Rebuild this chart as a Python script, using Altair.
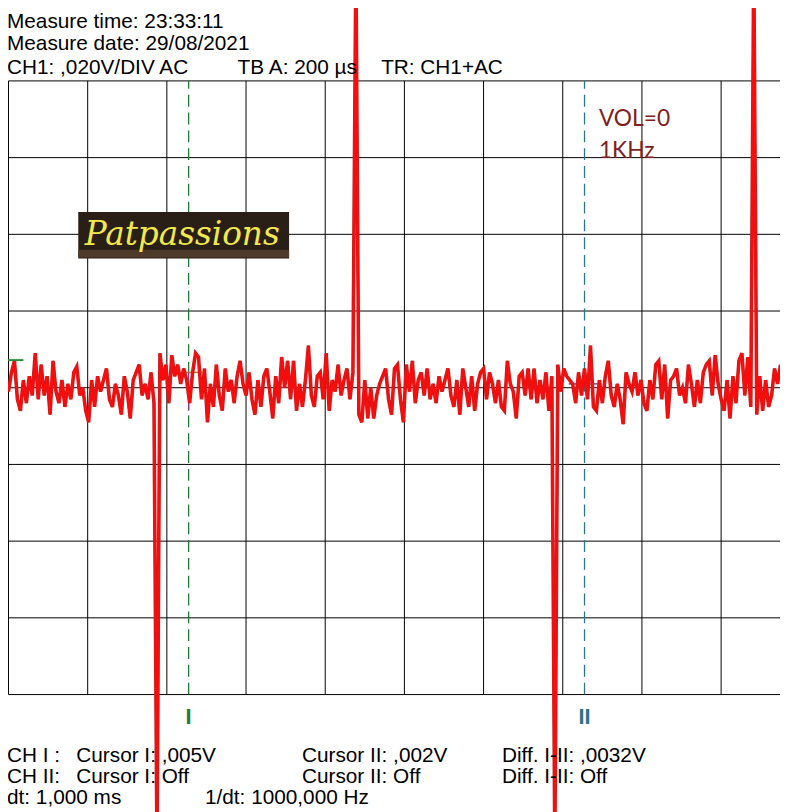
import altair as alt
import pandas as pd

# ---------------- values ----------------
header_lines = ["Measure time: 23:33:11", "Measure date: 29/08/2021"]
header_channel = ["CH1: ,020V/DIV AC", "TB A: 200 µs", "TR: CH1+AC"]
footer_row1 = ["CH I :", "Cursor I: ,005V", "Cursor II: ,002V", "Diff. I-II: ,0032V"]
footer_row2 = ["CH II:", "Cursor I: Off", "Cursor II: Off", "Diff. I-II: Off"]
footer_row3 = ["dt: 1,000 ms", "1/dt: 1000,000 Hz"]
note_lines = ["VOL=0", "1KHz"]
logo_text = "Patpassions"

cursor_names = ["I", "II"]
cursor_time_us = [455, 1455]
cursor_level_mv = [4.0, 1.0]
trigger_level_mv = 7.2

time_grid_us = [0, 200, 400, 600, 800, 1000, 1200, 1400, 1600, 1800]
volt_grid_mv = [-80, -60, -40, -20, 0, 20, 40, 60, 80]

sample_step_us = 7.5
noise_mv = [
    -1, 4, 7, -3, -6, 2, -4, 3, -2, 9,
    -3, 6, -2, 3, -7, 7, -1, -4, 2, -5,
    1, -3, 4, 5.5, -2, 0, -6, -9, 2, -5,
    3, -1, 2, 5, -3, -5, 1, -2, -7, 3,
    -1, -8, 2, 4, 6, -2, 1, -3, 4, -4,
    -120, 9, 2, 6, -4, 8.5, 3, 6, 1, 5,
    2, -4, 4, 9, 8, -3, 5, -9, 1, -5,
    6, -2, -6, 5, -1, 2, -4, 3, 7, 1,
    -2, 4, -3, -7, 2, -5, 3, 5, -1, -8,
    3, -4, 8, 0, 7, -3, 7, -6, 1, -5,
    2, 11, -2, -5, 3, 4, -3, 9, -6, 2,
    -1, 6, -2, 2, 5, -3, 4, 112, -7, -9,
    2, -8, 0, -8, -2, 1, 3, 5, -3, -7,
    5, 6, -3, -9, 6, -1, 7, -4, 2, 4,
    -2, 5, -3, 1, -4, 3, -1, 2, 5, -2,
    -5, 2, -7, 5, 0, -5, 3, -6, 1, 4,
    5, -3, 4, 1, -4, 2, -5, -6, 7, 1,
    -1, -8, 3, 4, -2, 5, -3, 5, -4, 2,
    -3, 4, -6, 3, -120, 6, -1, 5, 3, 2,
    1, -4, 4, -2, 5, -3, 11, -5, -6, 2,
    -4, 3, 7, -2, -5, 1, -3, -9.5, 4, 1,
    -1, 4, -2, 2, -4, -6, 2, -3, 6, 7,
    -3, 6, -8, 2, 3, 5, -2, 0, -4, 6,
    1, -5, 2, -4, 4, 6, 7, -2, 8.5, 1,
    -3, -6, 2, -8, 3, -4, 7, 9, -2, 8,
    -5, 112, -7, 3, -6, 2, -5, -2, 5, 1, 6,
]

# ---------------- styles ----------------
W, H = 780, 620
PAD_TOP, PAD_BOTTOM = 70, 114
cursor_colors = ["#1f7a35", "#2b7585"]
FONT = "Liberation Sans"
TXT = 21

xs = alt.Scale(domain=[-1.25, 1948.75], nice=False, zero=False)
ys = alt.Scale(domain=[-80.13, 79.87], nice=False, zero=False)


def X(f):
    return alt.X(f, type="quantitative", scale=xs, axis=None)


def Y(f):
    return alt.Y(f, type="quantitative", scale=ys, axis=None)


def label(text, px, py, size=TXT, color="black", font=FONT, weight="normal",
          style="normal", align="left"):
    return alt.Chart(pd.DataFrame({"s": [text]})).mark_text(
        align=align, baseline="alphabetic", font=font, fontSize=size,
        color=color, fontWeight=weight, fontStyle=style,
    ).encode(text="s:N", x=alt.value(px - 8), y=alt.value(py - PAD_TOP - 8))


# grid
vgrid = pd.DataFrame({"t": time_grid_us, "lo": -80, "hi": 80})
hgrid = pd.DataFrame({"mv": volt_grid_mv, "t0": 0, "t1": 1948.75})
grid_v = alt.Chart(vgrid).mark_rule(color="black", strokeWidth=1).encode(
    x=X("t"), y=Y("lo"), y2="hi")
grid_h = alt.Chart(hgrid).mark_rule(color="black", strokeWidth=1).encode(
    y=Y("mv"), x=X("t0"), x2="t1")

# cursors
cur = pd.DataFrame({"name": cursor_names, "t": cursor_time_us, "lo": -80, "hi": 80})
ccol = alt.Color("name:N", scale=alt.Scale(domain=cursor_names, range=cursor_colors), legend=None)
cursor_lines = alt.Chart(cur).mark_rule(strokeWidth=1.3, strokeDash=[12, 6]).encode(
    x=X("t"), y=Y("lo"), y2="hi", color=ccol)
cursor_labels = alt.Chart(cur).mark_text(
    font=FONT, fontSize=22, fontWeight="bold", baseline="alphabetic", align="center"
).encode(x=X("t"), y=alt.value(727 - 78), text="name:N", color=ccol)

lev = pd.DataFrame({
    "t1": [cursor_time_us[0] - 40, cursor_time_us[1] - 40],
    "t2": [cursor_time_us[0] + 35, cursor_time_us[1] + 35],
    "mv": cursor_level_mv,
    "c": ["#c47a34", "#7a4490"],
})
levels = alt.Chart(lev).mark_rule(strokeWidth=1.5).encode(
    x=X("t1"), x2="t2", y=Y("mv"), color=alt.Color("c:N", scale=None))
vmark = alt.Chart(pd.DataFrame({"t": [cursor_time_us[0]], "a": [cursor_level_mv[0]], "b": [-6]})).mark_rule(
    color="#7a4490", strokeWidth=1.3).encode(x=X("t"), y=Y("a"), y2="b")

trig = alt.Chart(pd.DataFrame({"t1": [-20], "t2": [37.5], "mv": [trigger_level_mv]})).mark_rule(
    color="#2a8a3a", strokeWidth=2).encode(x=X("t1"), x2="t2", y=Y("mv"))

# trace: dark red outline under a bright red core
trace_df = pd.DataFrame({"t": [i * sample_step_us for i in range(len(noise_mv))], "mv": noise_mv})
trace_edge = alt.Chart(trace_df).mark_line(color="#c42020", strokeWidth=3.6, clip=False,
                                           strokeJoin="miter").encode(x=X("t"), y=Y("mv"))
trace = alt.Chart(trace_df).mark_line(color="#ff0a0a", strokeWidth=2.2, clip=False,
                                      strokeJoin="miter").encode(x=X("t"), y=Y("mv"))

# logo
logo_bg = alt.Chart(pd.DataFrame({"a": [0]})).mark_rect(color="#2a1f17").encode(
    x=alt.value(79 - 8), x2=alt.value(292 - 8), y=alt.value(210 - 78), y2=alt.value(257 - 78))
logo_band = alt.Chart(pd.DataFrame({"a": [0]})).mark_rect(color="#4d3a2b").encode(
    x=alt.value(79 - 8), x2=alt.value(292 - 8), y=alt.value(248 - 78), y2=alt.value(256 - 78))
logo_txt = label(logo_text, 184, 243, size=33, color="#f2ea4a", font="DejaVu Serif",
                 style="italic", align="center")

texts = [
    label(header_lines[0], 7, 24),
    label(header_lines[1], 7, 46),
    label(header_channel[0], 7, 71),
    label(header_channel[1], 240, 71),
    label(header_channel[2], 385, 71),
    label(footer_row1[0], 7, 766), label(footer_row1[1], 77, 766),
    label(footer_row1[2], 305, 766), label(footer_row1[3], 507, 766),
    label(footer_row2[0], 7, 787), label(footer_row2[1], 77, 787),
    label(footer_row2[2], 305, 787), label(footer_row2[3], 507, 787),
    label(footer_row3[0], 7, 808), label(footer_row3[1], 207, 808),
    label(note_lines[0], 605, 123, size=23, color="#7e1f22", font="Lato"),
    label(note_lines[1], 605, 155, size=23, color="#7e1f22", font="Lato"),
]

chart = alt.layer(
    grid_v, grid_h, cursor_lines, levels, vmark, trace_edge, trace, trig,
    logo_bg, logo_band, logo_txt, cursor_labels, *texts
).properties(
    width=W, height=H,
    padding={"left": 0, "top": PAD_TOP, "right": 0, "bottom": PAD_BOTTOM},
    autosize=alt.AutoSizeParams(type="none"),
    background="white",
).configure_view(stroke=None)

chart.save("out.html", embed_options={"renderer": "svg", "actions": False})
